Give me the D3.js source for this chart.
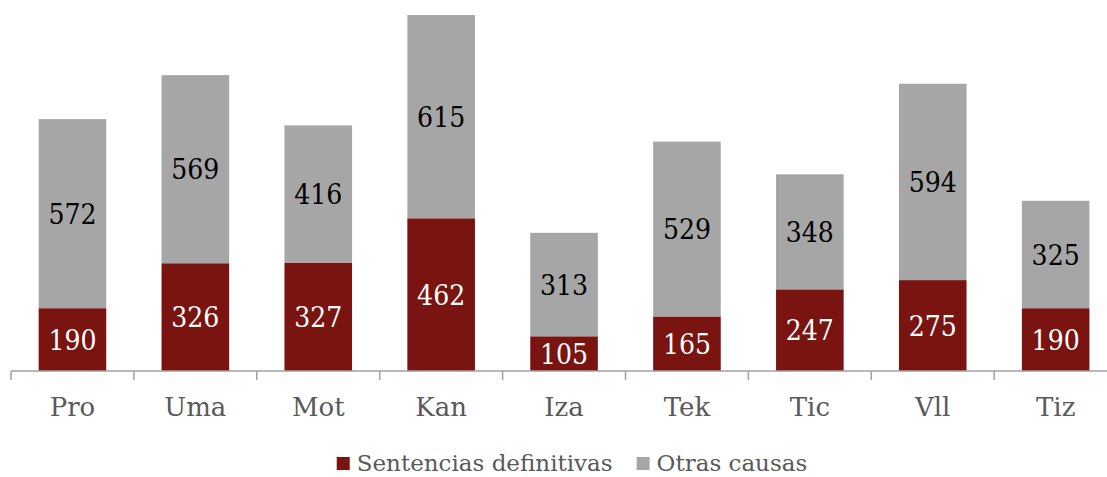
<!DOCTYPE html>
<html>
<head>
<meta charset="utf-8">
<script src="https://cdn.jsdelivr.net/npm/d3@7"></script>
<style>
  html, body { margin: 0; padding: 0; background: #fff; }
  svg { display: block; }
</style>
</head>
<body>
<svg id="chart" width="1107" height="477"></svg>
<script>
// Categories and the two stacked series
const categories = ["Pro", "Uma", "Mot", "Kan", "Iza", "Tek", "Tic", "Vll", "Tiz"];
const sentencias = [190, 326, 327, 462, 105, 165, 247, 275, 190];
const otras      = [572, 569, 416, 615, 313, 529, 348, 594, 325];
const seriesNames = ["Sentencias definitivas", "Otras causas"];

const colors = { sentencias: "#7A1410", otras: "#A6A6A6" };
const textFont = "'DejaVu Serif', serif";
const numFont = "'DejaVu Serif Condensed', 'DejaVu Serif', serif";

const svg = d3.select("#chart");

const rows = categories.map((c, i) => ({ cat: c, sentencias: sentencias[i], otras: otras[i] }));
const stack = d3.stack().keys(["sentencias", "otras"])(rows);

const x = d3.scaleBand()
  .domain(categories)
  .range([11, 11 + 9 * 122.9])
  .paddingInner(0.45)
  .paddingOuter(0.225);

const maxTotal = d3.max(rows, d => d.sentencias + d.otras);
const y = d3.scaleLinear().domain([0, maxTotal]).range([371, 15]);

// Stacked bars
const layers = svg.append("g").selectAll("g")
  .data(stack)
  .join("g")
  .attr("fill", d => colors[d.key]);

layers.selectAll("rect")
  .data(d => d.map(p => ({ key: d.key, p })))
  .join("rect")
  .attr("x", d => x(d.p.data.cat))
  .attr("width", x.bandwidth())
  .attr("y", d => y(d.p[1]))
  .attr("height", d => y(d.p[0]) - y(d.p[1]));

// Value labels centred in each segment
layers.selectAll("text")
  .data(d => d.map(p => ({ key: d.key, p })))
  .join("text")
  .attr("x", d => x(d.p.data.cat) + x.bandwidth() / 2)
  .attr("y", d => (y(d.p[0]) + y(d.p[1])) / 2)
  .attr("dy", "0.36em")
  .attr("text-anchor", "middle")
  .attr("font-family", numFont)
  .attr("font-stretch", "condensed")
  .attr("font-size", 28)
  .attr("fill", d => d.key === "sentencias" ? "#ffffff" : "#000000")
  .text(d => d.p[1] - d.p[0]);

// Category axis with ticks between bands
const step = x.step();
const x0 = x.range()[0];
const axis = svg.append("g");
axis.append("line")
  .attr("x1", x0).attr("x2", x.range()[1])
  .attr("y1", 371).attr("y2", 371)
  .attr("stroke", "#A0A0A0").attr("stroke-width", 1.5);
axis.selectAll("line.tick")
  .data(d3.range(categories.length + 1))
  .join("line")
  .attr("class", "tick")
  .attr("x1", i => x0 + i * step).attr("x2", i => x0 + i * step)
  .attr("y1", 371).attr("y2", 380)
  .attr("stroke", "#A0A0A0").attr("stroke-width", 1.5);
axis.selectAll("text")
  .data(categories)
  .join("text")
  .attr("x", d => x(d) + x.bandwidth() / 2)
  .attr("y", 416)
  .attr("text-anchor", "middle")
  .attr("font-family", textFont)
  .attr("font-size", 26)
  .attr("fill", "#595959")
  .text(d => d);

// Legend
const legend = svg.append("g");
const legendKeys = ["sentencias", "otras"];
let lx = 0;
legendKeys.forEach((k, i) => {
  const g = legend.append("g").attr("transform", `translate(${lx},0)`);
  g.append("rect").attr("x", 0).attr("y", 457).attr("width", 13).attr("height", 13)
    .attr("fill", colors[k]);
  const t = g.append("text")
    .attr("x", 20).attr("y", 471)
    .attr("font-family", textFont)
    .attr("font-size", 23)
    .attr("fill", "#595959")
    .text(seriesNames[i]);
  lx += 20 + t.node().getComputedTextLength() + 24;
});
const legendWidth = lx - 24;
legend.attr("transform", `translate(${572 - legendWidth / 2},0)`);
</script>
</body>
</html>
